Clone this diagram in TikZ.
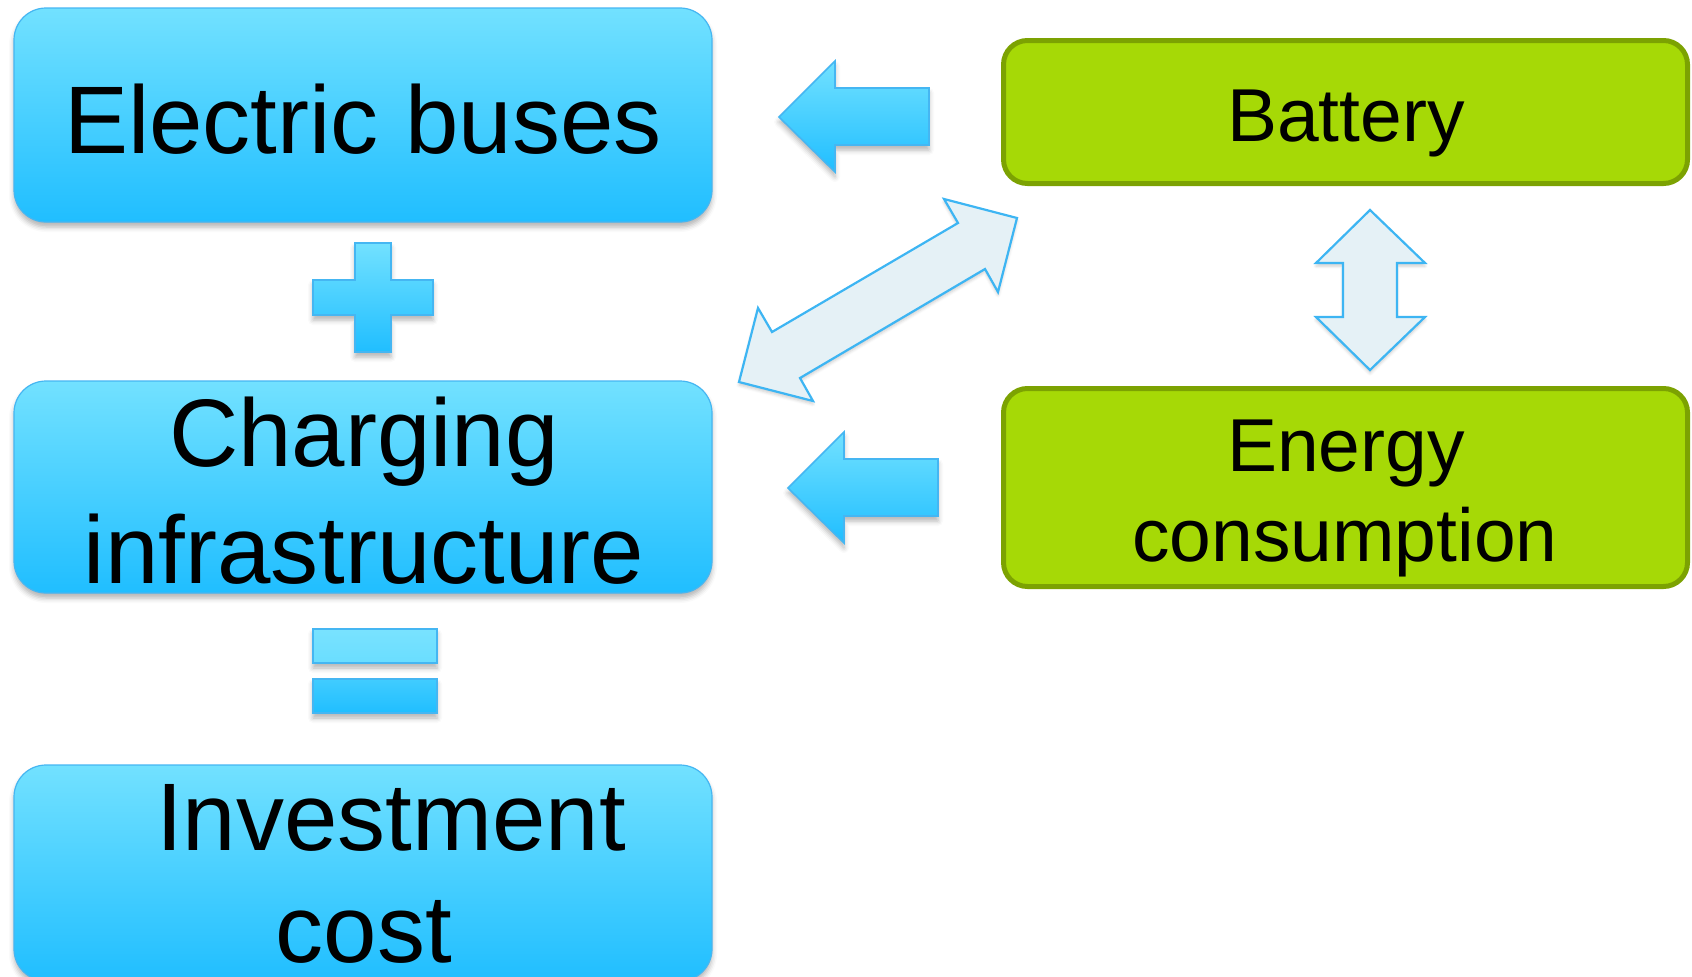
\documentclass[tikz,border=0pt]{standalone}
\usepackage{fontspec}
\setmainfont{Liberation Sans}
\usetikzlibrary{shadows,shadows.blur}

\definecolor{cyanTop}{HTML}{72E1FF}
\definecolor{cyanBot}{HTML}{20BEFF}
\definecolor{cyanEdge}{HTML}{45B6F2}
\definecolor{limeFill}{HTML}{A6D906}
\definecolor{limeEdge}{HTML}{7CA202}
\definecolor{paleFill}{HTML}{E5F1F6}
\definecolor{paleEdge}{HTML}{3DB5F3}

\tikzset{
  softshadow/.style={blur shadow={shadow xshift=0pt, shadow yshift=-5pt,
      shadow blur radius=5pt, shadow opacity=30}},
  bluebox/.style={rounded corners=32pt, draw=cyanEdge, line width=1.2pt,
      top color=cyanTop, bottom color=cyanBot, inner sep=0pt, softshadow},
  limebox/.style={rounded corners=24pt, draw=limeEdge, line width=5pt,
      fill=limeFill, inner sep=0pt},
  bigtext/.style={font=\fontsize{96}{115}\selectfont, inner sep=0pt, anchor=base},
  midtext/.style={font=\fontsize{75}{90}\selectfont, inner sep=0pt, anchor=base},
  bluemark/.style={draw=cyanEdge, line width=1.6pt, top color=cyanTop,
      bottom color=cyanBot, softshadow},
  palearrow/.style={draw=paleEdge, line width=2.2pt, fill=paleFill,
      line join=miter, blur shadow={shadow xshift=0pt, shadow yshift=-3pt,
      shadow blur radius=3pt, shadow opacity=20}},
}

\begin{document}
\begin{tikzpicture}[x=1pt, y=-1pt]
  \useasboundingbox (0,0) rectangle (1692,977);

  % cost components (left column)
  \node[bluebox, minimum width=698pt, minimum height=214pt] (buses) at (363,115) {};
  \node[bluebox, minimum width=698pt, minimum height=212pt] (charging) at (363,487) {};
  \node[bluebox, minimum width=698pt, minimum height=216pt] (invest) at (363,873) {};

  \node[bigtext] (busesText) at (363,153) {Electric buses};
  \node[bigtext] (chargingA) at (364,466) {Charging};
  \node[bigtext] (chargingB) at (364,583) {infrastructure};
  \node[bigtext] (investA) at (391,850) {Investment};
  \node[bigtext] (investB) at (364,962) {cost};

  % influencing factors (right column)
  \node[limebox, minimum width=684pt, minimum height=143pt] (battery) at (1345.5,112) {};
  \node[limebox, minimum width=684pt, minimum height=198pt] (energy) at (1345.5,487.5) {};

  \node[midtext] (batteryText) at (1346,141) {Battery};
  \node[midtext] (energyA) at (1346,471) {Energy};
  \node[midtext] (energyB) at (1345,561) {consumption};

  % plus and equals signs
  \draw[bluemark] (355,243) -- (391,243) -- (391,280) -- (433,280) -- (433,315)
    -- (391,315) -- (391,352) -- (355,352) -- (355,315) -- (313,315)
    -- (313,280) -- (355,280) -- cycle;
  \draw[bluemark, top color=cyanTop!95!white, bottom color=cyanTop!90!cyanBot]
    (313,629) rectangle (437,663);
  \draw[bluemark, top color=cyanTop!40!cyanBot, bottom color=cyanBot]
    (313,679) rectangle (437,713);

  % block arrows pointing to the cost components
  \draw[bluemark] (779,117) -- (835,61) -- (835,88) -- (929,88) -- (929,145)
    -- (835,145) -- (835,172) -- cycle;
  \draw[bluemark] (788,488) -- (844,432) -- (844,459) -- (938,459) -- (938,516)
    -- (844,516) -- (844,543) -- cycle;

  % mutual influence arrows
  \draw[palearrow] (1017,218) -- (998,292) -- (985,269) -- (800,378) -- (813,401)
    -- (739,382) -- (758,308) -- (772,332) -- (958,223) -- (944,199) -- cycle;
  \draw[palearrow] (1370,210) -- (1425,263) -- (1397,263) -- (1397,317)
    -- (1425,317) -- (1370,370) -- (1316,317) -- (1343,317) -- (1343,263)
    -- (1316,263) -- cycle;
\end{tikzpicture}
\end{document}
